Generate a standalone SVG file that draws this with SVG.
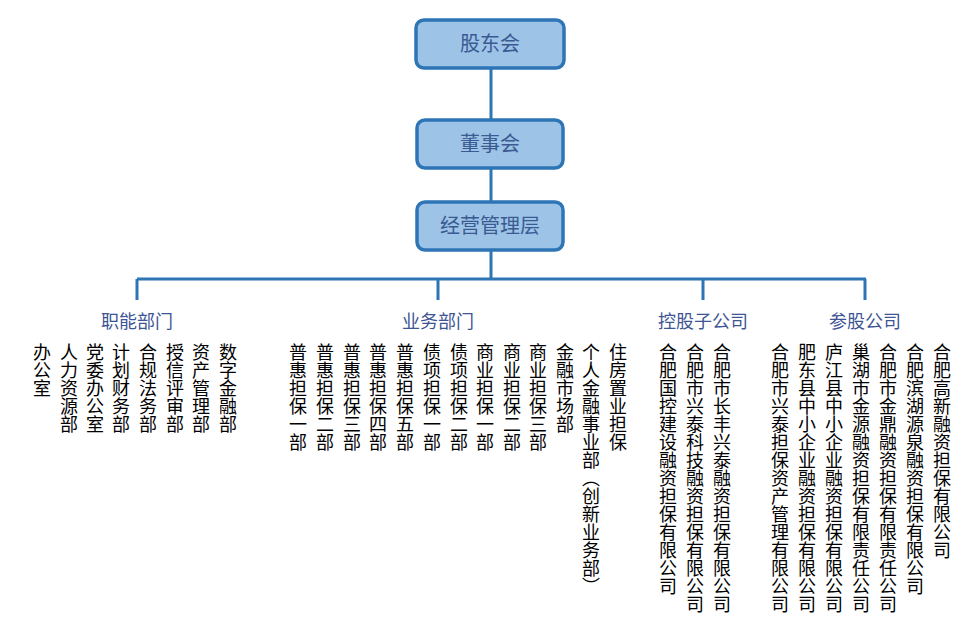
<svg xmlns="http://www.w3.org/2000/svg" width="974" height="637" viewBox="0 0 974 637">
<style>
.box{fill:#9dc3e6;stroke:#2e75b6;stroke-width:3.5}
.bt{font-family:"Noto Sans CJK SC",sans-serif;font-size:20px;fill:#3a5a92;text-anchor:middle}
.cat{font-family:"Noto Sans CJK SC",sans-serif;font-size:18px;fill:#3d5594;text-anchor:middle}
.v{font-family:"Noto Sans CJK SC",sans-serif;font-size:18px;fill:#000;writing-mode:vertical-rl;text-anchor:start}
.ln{stroke:#2e75b6;stroke-width:3;fill:none}
</style>
<rect width="974" height="637" fill="#fff"/>
<g id="connectors">
<path class="ln" d="M491 68V120M491 168V202M491 250V279M137 279H866M137 279V300M438 279V300M703 279V300M865 279V300"/>
</g>
<g id="n1"><rect class="box" x="416" y="20" width="148" height="48" rx="8"/><text class="bt" x="490" y="51">股东会</text></g>
<g id="n2"><rect class="box" x="417" y="120" width="146" height="48" rx="8"/><text class="bt" x="490" y="151">董事会</text></g>
<g id="n3"><rect class="box" x="417" y="202" width="146" height="48" rx="8"/><text class="bt" x="490" y="233">经营管理层</text></g>
<g id="cats">
<text class="cat" x="137" y="328">职能部门</text>
<text class="cat" x="438" y="328">业务部门</text>
<text class="cat" x="703" y="328">控股子公司</text>
<text class="cat" x="865" y="328">参股公司</text>
</g>
<g id="func">
<text class="v" x="42" y="343">办公室</text>
<text class="v" x="69" y="343">人力资源部</text>
<text class="v" x="95" y="343">党委办公室</text>
<text class="v" x="121" y="343">计划财务部</text>
<text class="v" x="148" y="343">合规法务部</text>
<text class="v" x="175" y="343">授信评审部</text>
<text class="v" x="201" y="343">资产管理部</text>
<text class="v" x="228" y="343">数字金融部</text>
</g>
<g id="biz">
<text class="v" x="298" y="343">普惠担保一部</text>
<text class="v" x="325" y="343">普惠担保二部</text>
<text class="v" x="352" y="343">普惠担保三部</text>
<text class="v" x="378" y="343">普惠担保四部</text>
<text class="v" x="405" y="343">普惠担保五部</text>
<text class="v" x="432" y="343">债项担保一部</text>
<text class="v" x="459" y="343">债项担保二部</text>
<text class="v" x="485" y="343">商业担保一部</text>
<text class="v" x="512" y="343">商业担保二部</text>
<text class="v" x="538" y="343">商业担保三部</text>
<text class="v" x="565" y="343">金融市场部</text>
<text class="v" x="591" y="343">个人金融事业部（创新业务部）</text>
<text class="v" x="618" y="343">住房置业担保</text>
</g>
<g id="subs">
<text class="v" x="668" y="343">合肥国控建设融资担保有限公司</text>
<text class="v" x="695" y="343">合肥市兴泰科技融资担保有限公司</text>
<text class="v" x="722" y="343">合肥市长丰兴泰融资担保有限公司</text>
</g>
<g id="assoc">
<text class="v" x="780" y="343">合肥市兴泰担保资产管理有限公司</text>
<text class="v" x="807" y="343">肥东县中小企业融资担保有限公司</text>
<text class="v" x="834" y="343">庐江县中小企业融资担保有限公司</text>
<text class="v" x="861" y="343">巢湖市金源融资担保有限责任公司</text>
<text class="v" x="888" y="343">合肥市金鼎融资担保有限责任公司</text>
<text class="v" x="915" y="343">合肥滨湖源泉融资担保有限公司</text>
<text class="v" x="942" y="343">合肥高新融资担保有限公司</text>
</g>
</svg>
